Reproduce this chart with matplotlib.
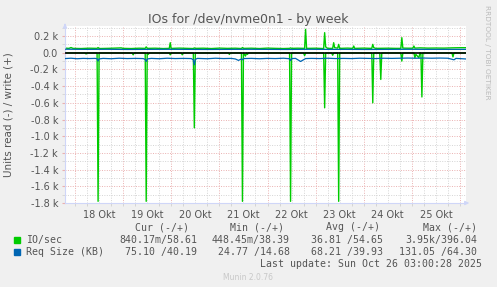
import matplotlib
matplotlib.use('Agg')
import matplotlib.pyplot as plt
from matplotlib.ticker import FixedLocator, MultipleLocator

# hours since 17 Okt 00:00, values in IO/s (read negative)
read_io_t = [19, 29, 29.5, 30, 35, 35.5, 36, 52.5, 53, 53.5, 59, 59.5, 60, 60.5, 61,
             71, 71.5, 72, 77, 77.5, 78, 83, 83.5, 84, 100.5, 101, 101.5, 107, 107.5, 108,
             109, 109.5, 110, 110.5, 131, 131.5, 132, 138, 138.5, 139, 148, 148.5, 149,
             152, 152.5, 153, 155, 155.5, 156, 172, 172.5, 173, 176, 176.5, 177,
             186.5, 187, 187.5, 193, 193.5, 194, 195.5, 196, 196.5, 197, 197.5,
             212, 212.5, 213, 219]
read_io_v = [-3, -3, -15, -3, -3, -1780, -3, -3, -25, -3, -3, -1780, -3, -20, -3,
             -3, -25, -3, -3, -25, -3, -3, -900, -3, -3, -20, -3, -3, -1780, -3,
             -40, -3, -20, -3, -3, -1780, -3, -3, -35, -3, -3, -660, -3,
             -3, -30, -3, -3, -1780, -3, -3, -600, -3, -3, -320, -3,
             -3, -100, -3, -3, -60, -20, -60, -3, -3, -530, -3,
             -3, -50, -3, -3]

write_io_t = [19, 21, 22, 23, 27, 31, 35, 35.5, 36, 40, 44, 47, 48, 52, 56, 59, 59.5, 60,
              64, 68, 71, 71.5, 72, 72.5, 76, 80, 83, 83.5, 84, 88, 92, 96, 100, 104,
              107, 107.5, 108, 112, 116, 120, 124, 128, 131, 131.5, 132, 135, 138.5, 139,
              139.5, 140, 144, 148, 148.5, 149, 150, 152.5, 153, 153.5, 155, 155.5, 156,
              160, 162.5, 163, 163.5, 168, 172, 172.5, 173, 174, 180, 184, 186.5, 187,
              187.5, 190, 192.5, 193, 193.5, 196, 200, 204, 208, 212, 216, 219]
write_io_v = [55, 52, 62, 52, 50, 54, 52, 62, 50, 52, 55, 58, 52, 50, 54, 52, 70, 52,
              54, 50, 52, 120, 40, 52, 55, 52, 50, 58, 52, 54, 50, 55, 52, 54,
              50, 62, 52, 54, 50, 55, 52, 50, 52, 58, 52, 54, 52, 280,
              45, 52, 54, 50, 240, 70, 52, 52, 120, 60, 55, 100, 52,
              55, 52, 80, 52, 55, 52, 100, 60, 52, 54, 52, 52, 180,
              55, 54, 54, 80, 55, 58, 55, 56, 55, 58, 60, 60]

# request size in KB
read_req_t = [19, 22, 25, 28, 31, 34, 35, 35.5, 36, 38, 42, 46, 50, 54, 58, 59, 59.5, 60,
              62, 66, 70, 74, 78, 82, 83, 83.5, 84, 85, 90, 94, 98, 102, 104, 105.5, 107,
              107.5, 108, 112, 116, 120, 124, 128, 131, 131.5, 132, 134, 136.5, 139, 142,
              146, 150, 154, 158, 162, 166, 170, 174, 178, 182, 186, 190, 194, 198, 202,
              206, 210, 213, 214, 217, 219]
read_req_v = [-70, -66, -72, -68, -70, -68, -72, -100, -74, -68, -72, -66, -70, -68, -70, -80, -105, -75,
              -68, -72, -66, -70, -68, -70, -85, -145, -80, -68, -72, -66, -70, -68, -75, -92, -75,
              -85, -70, -68, -72, -68, -70, -66, -72, -95, -70, -68, -105, -70, -68,
              -70, -66, -70, -68, -70, -66, -68, -70, -66, -68, -66, -64, -66, -64, -66,
              -64, -66, -85, -68, -72, -75]

write_req_t = [19, 30, 40, 50, 60, 70, 80, 90, 100, 110, 120, 130, 140, 150, 160, 170, 180, 190, 200, 210, 219]
write_req_v = [42, 40, 41, 39, 40, 41, 40, 39, 40, 41, 40, 39, 41, 40, 40, 39, 40, 41, 40, 40, 40]

day_labels = ['18 Okt', '19 Okt', '20 Okt', '21 Okt', '22 Okt', '23 Okt', '24 Okt', '25 Okt']
y_ticks = [200, 0, -200, -400, -600, -800, -1000, -1200, -1400, -1600, -1800]
y_labels = ['0.2 k', '0.0', '-0.2 k', '-0.4 k', '-0.6 k', '-0.8 k', '-1.0 k',
            '-1.2 k', '-1.4 k', '-1.6 k', '-1.8 k']

W, H = 497, 287
TXT = '#555555'
AXC = '#CFD6F8'
GREEN = '#00CC00'
BLUE = '#0066B3'

fig = plt.figure(figsize=(W / 100, H / 100), dpi=100, facecolor='#F0F0F0')
ax = fig.add_axes([65 / W, (H - 203) / H, (466 - 65) / W, (203 - 26) / H])
ax.set_facecolor('white')
ax.set_xlim(19, 219)
ax.set_ylim(-1800, 320)

# grid: red at midnight / every 0.2k, grey otherwise
for h in range(24, 219, 6):
    c = '#EAB0B0' if h % 24 == 0 else '#D4D4D4'
    ax.axvline(h, color=c, lw=0.7, ls=(0, (1, 1.5)), zorder=0)
for v in range(-1700, 301, 100):
    if v == 0:
        continue
    c = '#EAB0B0' if v % 200 == 0 else '#D4D4D4'
    ax.axhline(v, color=c, lw=0.7, ls=(0, (1, 1.5)), zorder=0)

ax.plot(read_io_t, read_io_v, color=GREEN, lw=1.0, zorder=2)
ax.plot(write_io_t, write_io_v, color=GREEN, lw=1.0, zorder=2)
ax.axhline(0, color='black', lw=1.2, zorder=3)
ax.plot(read_req_t, read_req_v, color=BLUE, lw=0.9, zorder=4)
ax.plot(write_req_t, write_req_v, color=BLUE, lw=0.9, zorder=4)

# axes with arrows
for s in ['top', 'right']:
    ax.spines[s].set_visible(False)
for s in ['left', 'bottom']:
    ax.spines[s].set_color(AXC)
    ax.spines[s].set_linewidth(0.8)
ax.annotate('', xy=(1.015, 0), xytext=(0.99, 0), xycoords='axes fraction',
            arrowprops=dict(arrowstyle='-|>', color=AXC, lw=0.8, mutation_scale=6))
ax.annotate('', xy=(0, 1.03), xytext=(0, 0.99), xycoords='axes fraction',
            arrowprops=dict(arrowstyle='-|>', color=AXC, lw=0.8, mutation_scale=6))

ax.xaxis.set_major_locator(FixedLocator([36 + 24 * i for i in range(len(day_labels))]))
ax.set_xticklabels(day_labels)
ax.xaxis.set_minor_locator(MultipleLocator(6))
ax.tick_params(axis='x', which='major', length=0, pad=5, labelsize=7, labelcolor=TXT)
ax.tick_params(axis='x', which='minor', length=2, color='#D4D4D4', width=0.7)
ax.yaxis.set_major_locator(FixedLocator(y_ticks))
ax.set_yticklabels(y_labels)
ax.yaxis.set_minor_locator(MultipleLocator(100))
ax.tick_params(axis='y', which='major', length=2, color='#EAB0B0', pad=3, labelsize=7, labelcolor=TXT)
ax.tick_params(axis='y', which='minor', length=2, color='#D4D4D4')

ax.set_ylabel('Units read (-) / write (+)', fontsize=7.5, color=TXT)
ax.yaxis.set_label_coords(-52 / 401, 0.5)

fig.text(248 / W, 1 - 19 / H, 'IOs for /dev/nvme0n1 - by week', ha='center', va='center',
         fontsize=9, color=TXT)
fig.text(487 / W, 1 - 52 / H, 'RRDTOOL / TOBI OETIKER', ha='center', va='center',
         rotation=-90, fontsize=5.3, color='#BBBBBB')


def px(x, y, s, **kw):
    fig.text(x / W, 1 - y / H, s, va='center', family='DejaVu Sans Mono', fontsize=7.1,
             color=TXT, **kw)


# legend block
px(135, 227, 'Cur (-/+)')
px(230, 227, 'Min (-/+)')
px(326, 227, 'Avg (-/+)')
px(423, 227, 'Max (-/+)')

fig.patches.append(plt.Rectangle((14 / W, 1 - 243 / H), 6 / W, 6 / H, transform=fig.transFigure,
                                 color=GREEN, figure=fig))
fig.patches.append(plt.Rectangle((14 / W, 1 - 255 / H), 6 / W, 6 / H, transform=fig.transFigure,
                                 color=BLUE, figure=fig))
px(26, 240, 'IO/sec')
px(197, 240, '840.17m/58.61', ha='right')
px(290, 240, '448.45m/38.39', ha='right')
px(383, 240, '36.81 /54.65', ha='right')
px(477, 240, '3.95k/396.04', ha='right')

px(26, 252, 'Req Size (KB)')
px(197, 252, '75.10 /40.19', ha='right')
px(290, 252, '24.77 /14.68', ha='right')
px(383, 252, '68.21 /39.93', ha='right')
px(477, 252, '131.05 /64.30', ha='right')

px(482, 264, 'Last update: Sun Oct 26 03:00:28 2025', ha='right')
fig.text(248 / W, 1 - 277 / H, 'Munin 2.0.76', ha='center', va='center', fontsize=5.5,
         color='#C8C8C8')

fig.savefig('out.png', dpi=100, facecolor=fig.get_facecolor())
